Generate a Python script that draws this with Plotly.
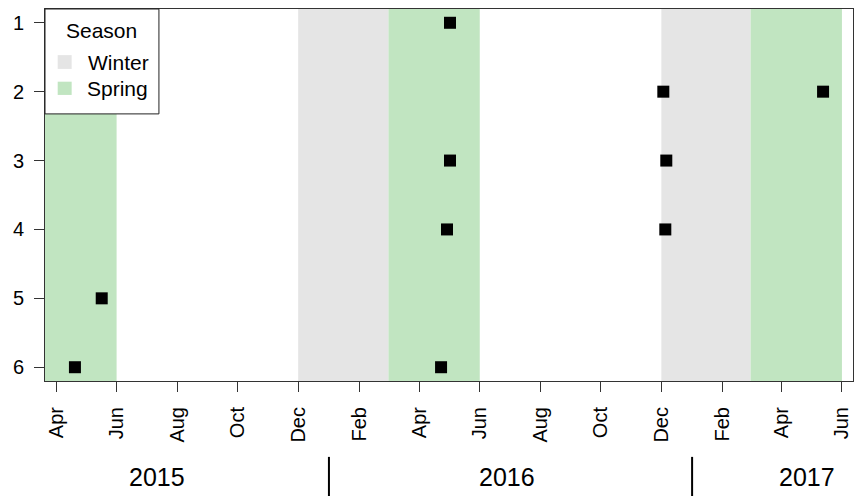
import plotly.graph_objects as go
import pandas as pd

# ---- data ----
obs_dates = ["2015-04-20", "2015-05-17", "2016-05-02", "2016-05-02", "2016-04-29",
             "2016-04-23", "2016-12-03", "2016-12-06", "2016-12-05", "2017-05-13"]
obs_values = [6, 5, 1, 3, 4, 6, 2, 3, 4, 2]

winter_starts = ["2014-12-01", "2015-12-01", "2016-12-01"]
winter_ends = ["2015-03-01", "2016-03-01", "2017-03-01"]
spring_starts = ["2015-03-01", "2016-03-01", "2017-03-01"]
spring_ends = ["2015-06-01", "2016-06-01", "2017-06-01"]

tick_dates = ["2015-04-01", "2015-06-01", "2015-08-01", "2015-10-01", "2015-12-01",
              "2016-02-01", "2016-04-01", "2016-06-01", "2016-08-01", "2016-10-01",
              "2016-12-01", "2017-02-01", "2017-04-01", "2017-06-01"]
tick_labels = ["Apr", "Jun", "Aug", "Oct", "Dec", "Feb", "Apr", "Jun", "Aug", "Oct",
               "Dec", "Feb", "Apr", "Jun"]

year_labels = ["2015", "2016", "2017"]
year_label_dates = ["2015-07-12", "2016-06-28", "2017-04-27"]
year_breaks = ["2016-01-01", "2017-01-01"]

y_ticks = [1, 2, 3, 4, 5, 6]

GREY = "#E5E5E5"
GREEN = "#C1E5C1"
FONT = "Liberation Sans, Arial, sans-serif"

d = pd.to_datetime(obs_dates)
span = d.max() - d.min()
x_range = [d.min() - 0.04 * span, d.max() + 0.04 * span]

fig = go.Figure()
fig.add_trace(go.Scatter(
    x=obs_dates, y=obs_values, mode="markers",
    marker=dict(symbol="square", size=12, color="black"),
    showlegend=False, hoverinfo="x+y"))

shapes = []
for s, e in zip(winter_starts, winter_ends):
    shapes.append(dict(type="rect", xref="x", yref="paper", x0=s, x1=e, y0=0, y1=1,
                       fillcolor=GREY, line=dict(width=0), layer="below"))
for s, e in zip(spring_starts, spring_ends):
    shapes.append(dict(type="rect", xref="x", yref="paper", x0=s, x1=e, y0=0, y1=1,
                       fillcolor=GREEN, line=dict(width=0), layer="below"))
for b in year_breaks:
    shapes.append(dict(type="line", xref="x", yref="paper", x0=b, x1=b, y0=-0.204, y1=-0.31,
                       line=dict(color="black", width=2)))

# legend box
shapes.append(dict(type="rect", xref="paper", yref="paper", x0=0, x1=0.141, y0=0.718, y1=1,
                   fillcolor="white", line=dict(color="#222", width=1)))
shapes.append(dict(type="rect", xref="paper", yref="paper", x0=0.0157, x1=0.033, y0=0.839, y1=0.876,
                   fillcolor=GREY, line=dict(width=0)))
shapes.append(dict(type="rect", xref="paper", yref="paper", x0=0.0157, x1=0.033, y0=0.769, y1=0.8046,
                   fillcolor=GREEN, line=dict(width=0)))

annotations = []
annotations.append(dict(text="Season", xref="paper", yref="paper", x=0.0702, y=0.9435,
                        xanchor="center", yanchor="middle", showarrow=False,
                        font=dict(size=21, color="black", family=FONT)))
annotations.append(dict(text="Winter", xref="paper", yref="paper", x=0.0507, y=0.855,
                        xanchor="left", yanchor="middle", showarrow=False,
                        font=dict(size=21, color="black", family=FONT)))
annotations.append(dict(text="Spring", xref="paper", yref="paper", x=0.0495, y=0.787,
                        xanchor="left", yanchor="middle", showarrow=False,
                        font=dict(size=21, color="black", family=FONT)))
for lbl, dt in zip(year_labels, year_label_dates):
    annotations.append(dict(text=lbl, xref="x", yref="paper", x=dt, y=-0.258,
                            xanchor="center", yanchor="middle", showarrow=False,
                            font=dict(size=25, color="black", family=FONT)))

fig.update_layout(
    width=861, height=496,
    margin=dict(l=45, r=8, t=9, b=115),
    plot_bgcolor="white", paper_bgcolor="white",
    shapes=shapes, annotations=annotations,
    font=dict(family=FONT, color="black"),
    showlegend=False,
)
fig.update_xaxes(
    type="date", range=x_range, tickmode="array", tickvals=tick_dates, ticktext=tick_labels,
    tickangle=-90, ticks="outside", ticklen=10, tickwidth=1, tickcolor="#333",
    showline=True, linecolor="#333", linewidth=1, mirror=True, showgrid=False, zeroline=False,
    tickfont=dict(size=20, color="black", family=FONT), ticklabelstandoff=7,
)
fig.update_yaxes(
    range=[6.2, 0.8], tickmode="array", tickvals=y_ticks, ticktext=[str(v) for v in y_ticks],
    ticks="outside", ticklen=10, tickwidth=1, tickcolor="#333",
    showline=True, linecolor="#333", linewidth=1, mirror=True, showgrid=False, zeroline=False,
    tickfont=dict(size=20, color="black", family=FONT), ticklabelstandoff=6,
)

fig.write_html("out.html", config={"displayModeBar": False},
               post_script="document.body.style.margin='0';document.body.style.overflow='hidden';")
